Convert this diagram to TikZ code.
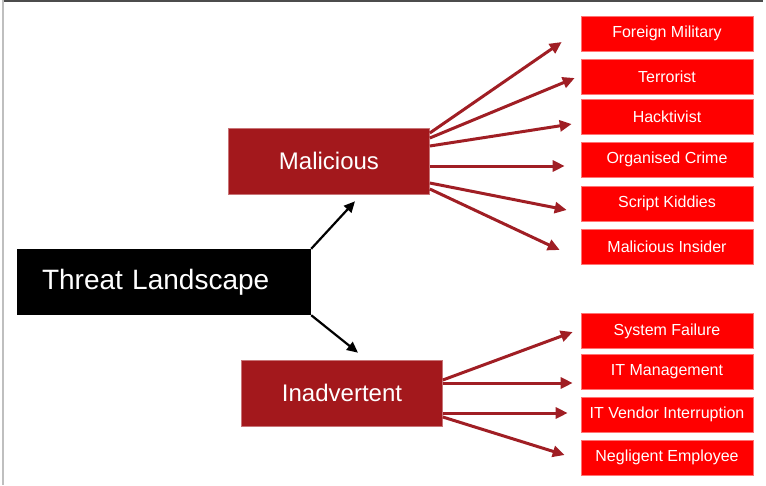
\documentclass[tikz,border=0pt]{standalone}
\usepackage{fontspec}
\setmainfont{Liberation Sans}
\usetikzlibrary{arrows.meta}
\definecolor{darkred}{RGB}{163,24,28}
\definecolor{arrowred}{RGB}{160,30,36}
\begin{document}
\begin{tikzpicture}[x=1pt, y=-1pt,
    rootbox/.style={fill=black, text=white, minimum width=294pt, minimum height=66pt, inner xsep=25pt, inner ysep=0pt, text width=244pt, align=left, font=\fontsize{28}{30}\selectfont},
    groupbox/.style={fill=darkred, draw=darkred!60!white, line width=0.6pt, text=white, minimum width=201pt, minimum height=66pt, inner sep=0pt, font=\fontsize{24}{26}\selectfont},
    leafbox/.style={fill=red, draw=red!55!white, line width=0.6pt, text=white, minimum width=172pt, minimum height=35pt, inner sep=0pt, font=\fontsize{16}{18}\selectfont},
    blackarrow/.style={-{Triangle[length=11pt, width=10pt]}, line width=2.2pt, black},
    redarrow/.style={-{Triangle[length=12pt, width=11pt]}, line width=3pt, arrowred}]
    \useasboundingbox (0,0) rectangle (766,485);
    \draw[line width=2pt, black!70] (3,1) -- (763,1);
    \draw[line width=1.4pt, black!25] (3,0) -- (3,485);

    \node[rootbox] (threat) at (164, 282) {Threat Landscape};
    \node[groupbox] (mal) at (329, 161) {Malicious};
    \node[groupbox] (inad) at (342, 393) {Inadvertent};

    \node[leafbox] (foreign) at (667, 33.5) {Foreign Military};
    \node[leafbox] (terror) at (667, 76.5) {Terrorist};
    \node[leafbox] (hack) at (667, 116.5) {Hacktivist};
    \node[leafbox] (crime) at (667, 159.5) {Organised Crime};
    \node[leafbox] (script) at (667, 203.5) {Script Kiddies};
    \node[leafbox] (insider) at (667, 246.5) {Malicious Insider};

    \node[leafbox] (failure) at (667, 331) {System Failure};
    \node[leafbox] (itmgmt) at (667, 371.5) {IT Management};
    \node[leafbox] (vendor) at (667, 414.5) {IT Vendor Interruption};
    \node[leafbox] (negligent) at (667, 457.5) {Negligent Employee};

    \draw[blackarrow] (threat.north east) -- ([xshift=26pt, yshift=-7pt]mal.south);
    \draw[blackarrow] (threat.south east) -- ([xshift=16pt, yshift=7pt]inad.north);

    \draw[redarrow] ([yshift=28pt]mal.east) -- ([xshift=-19pt, yshift=-8.5pt]foreign.west);
    \draw[redarrow] ([yshift=23pt]mal.east) -- ([xshift=-6pt, yshift=-1.5pt]terror.west);
    \draw[redarrow] ([yshift=15pt]mal.east) -- ([xshift=-9pt, yshift=-7.5pt]hack.west);
    \draw[redarrow] ([yshift=-5pt]mal.east) -- ([xshift=-16pt, yshift=-6.5pt]crime.west);
    \draw[redarrow] ([yshift=-22pt]mal.east) -- ([xshift=-14pt, yshift=-6.5pt]script.west);
    \draw[redarrow] ([yshift=-28pt]mal.east) -- ([xshift=-21pt, yshift=-3.5pt]insider.west);

    \draw[redarrow] ([yshift=13pt]inad.east) -- ([xshift=-8pt, yshift=-1pt]failure.west);
    \draw[redarrow] ([yshift=10pt]inad.east) -- ([xshift=-8pt, yshift=-11.5pt]itmgmt.west);
    \draw[redarrow] ([yshift=-20pt]inad.east) -- ([xshift=-13pt, yshift=1.5pt]vendor.west);
    \draw[redarrow] ([yshift=-24pt]inad.east) -- ([xshift=-16pt, yshift=2.5pt]negligent.west);
\end{tikzpicture}
\end{document}
